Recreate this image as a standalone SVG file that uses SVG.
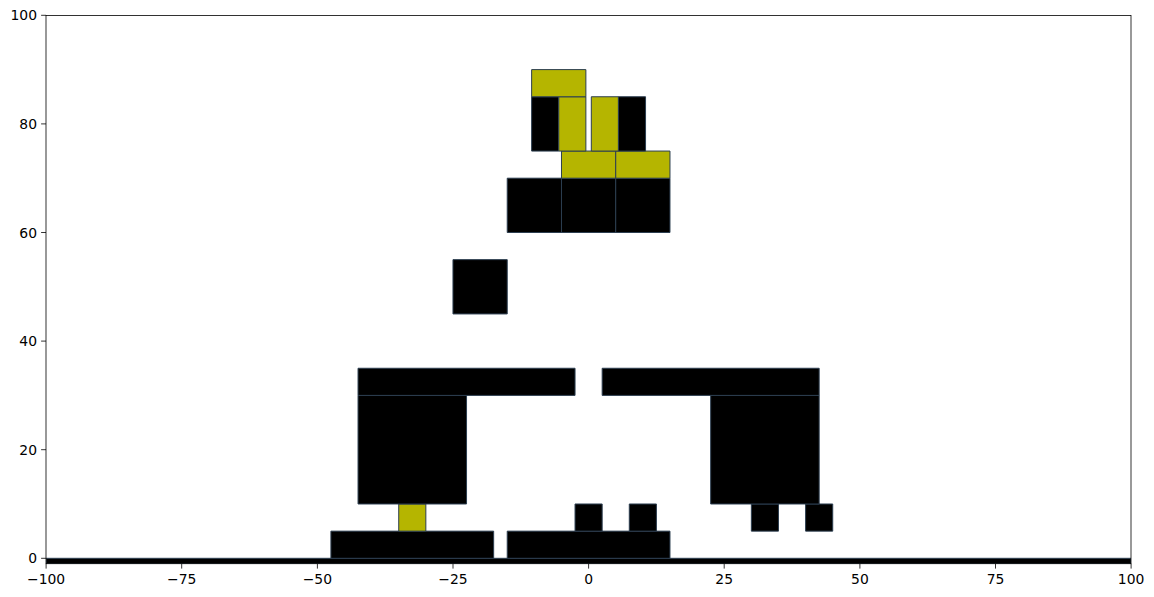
<svg xmlns="http://www.w3.org/2000/svg" width="1154" height="597" viewBox="0 0 1154 597">
<style>
.b{fill:#000000;stroke:#2c3e50;stroke-width:1;vector-effect:non-scaling-stroke}
.y{fill:#b5b500;stroke:#2c3e50;stroke-width:1;vector-effect:non-scaling-stroke}
.tick{stroke:#000;stroke-width:0.8}
.lbl{font-family:"DejaVu Sans",sans-serif;font-size:13.9px;fill:#000}
</style>
<defs><clipPath id="ax"><rect x="46" y="15.5" width="1085" height="548.2"/></clipPath></defs>
<rect width="1154" height="597" fill="#fff"/>
<g clip-path="url(#ax)">
<g transform="translate(588.6,558.3) scale(5.425,-5.43)">
<g id="ground"><rect class="b" x="-100" y="-1" width="200" height="1"/></g>
<g id="platform-left"><rect class="b" x="-47.5" y="0" width="30" height="5"/></g>
<g id="platform-right"><rect class="b" x="-15" y="0" width="30" height="5"/></g>
<g id="small-yellow"><rect class="y" x="-35" y="5" width="5" height="5"/></g>
<g id="small-1"><rect class="b" x="-2.5" y="5" width="5" height="5"/></g>
<g id="small-2"><rect class="b" x="7.5" y="5" width="5" height="5"/></g>
<g id="small-3"><rect class="b" x="30" y="5" width="5" height="5"/></g>
<g id="small-4"><rect class="b" x="40" y="5" width="5" height="5"/></g>
<g id="block-left"><rect class="b" x="-42.5" y="10" width="20" height="20"/></g>
<g id="block-right"><rect class="b" x="22.5" y="10" width="20" height="20"/></g>
<g id="bar-left"><rect class="b" x="-42.5" y="30" width="40" height="5"/></g>
<g id="bar-right"><rect class="b" x="2.5" y="30" width="40" height="5"/></g>
<g id="floating"><rect class="b" x="-25" y="45" width="10" height="10"/></g>
<g id="row60-1"><rect class="b" x="-15" y="60" width="10" height="10"/></g>
<g id="row60-2"><rect class="b" x="-5" y="60" width="10" height="10"/></g>
<g id="row60-3"><rect class="b" x="5" y="60" width="10" height="10"/></g>
<g id="row70-1"><rect class="y" x="-5" y="70" width="10" height="5"/></g>
<g id="row70-2"><rect class="y" x="5" y="70" width="10" height="5"/></g>
<g id="col75-1"><rect class="b" x="-10.5" y="75" width="5" height="10"/></g>
<g id="col75-2"><rect class="y" x="-5.5" y="75" width="5" height="10"/></g>
<g id="col75-3"><rect class="y" x="0.5" y="75" width="5" height="10"/></g>
<g id="col75-4"><rect class="b" x="5.5" y="75" width="5" height="10"/></g>
<g id="top"><rect class="y" x="-10.5" y="85" width="10" height="5"/></g>
</g>
</g>
<g id="axes">
<rect x="46" y="15.5" width="1085" height="548.2" fill="none" stroke="#000" stroke-width="0.8"/>
<g class="tick">
<line x1="46.1" y1="563.7" x2="46.1" y2="568.6"/>
<line x1="181.7" y1="563.7" x2="181.7" y2="568.6"/>
<line x1="317.4" y1="563.7" x2="317.4" y2="568.6"/>
<line x1="453" y1="563.7" x2="453" y2="568.6"/>
<line x1="588.6" y1="563.7" x2="588.6" y2="568.6"/>
<line x1="724.2" y1="563.7" x2="724.2" y2="568.6"/>
<line x1="859.9" y1="563.7" x2="859.9" y2="568.6"/>
<line x1="995.5" y1="563.7" x2="995.5" y2="568.6"/>
<line x1="1131.1" y1="563.7" x2="1131.1" y2="568.6"/>
<line x1="41.1" y1="558.3" x2="46" y2="558.3"/>
<line x1="41.1" y1="449.7" x2="46" y2="449.7"/>
<line x1="41.1" y1="341.1" x2="46" y2="341.1"/>
<line x1="41.1" y1="232.5" x2="46" y2="232.5"/>
<line x1="41.1" y1="123.9" x2="46" y2="123.9"/>
<line x1="41.1" y1="15.3" x2="46" y2="15.3"/>
</g>
<g class="lbl" text-anchor="middle">
<text x="46.1" y="584">−100</text>
<text x="181.7" y="584">−75</text>
<text x="317.4" y="584">−50</text>
<text x="453" y="584">−25</text>
<text x="588.6" y="584">0</text>
<text x="724.2" y="584">25</text>
<text x="859.9" y="584">50</text>
<text x="995.5" y="584">75</text>
<text x="1131.1" y="584">100</text>
</g>
<g class="lbl" text-anchor="end">
<text x="37" y="563.3">0</text>
<text x="37" y="454.7">20</text>
<text x="37" y="346.1">40</text>
<text x="37" y="237.5">60</text>
<text x="37" y="128.9">80</text>
<text x="37" y="20.3">100</text>
</g>
</g>
</svg>
